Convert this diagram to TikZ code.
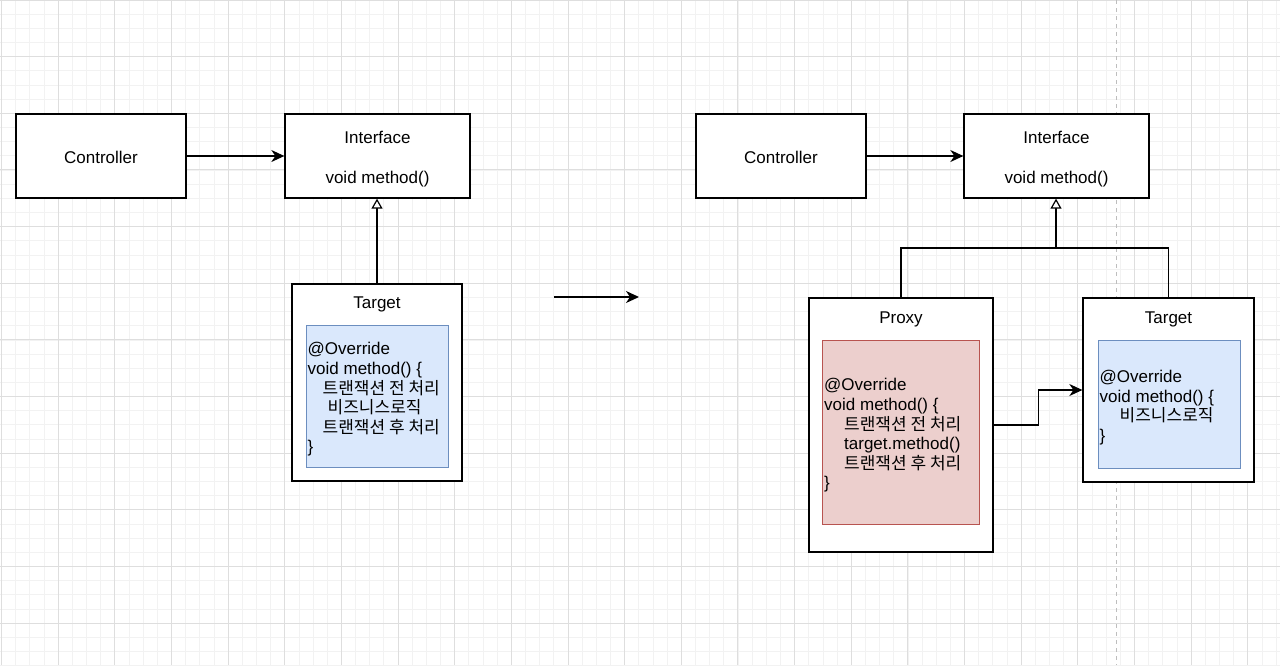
\documentclass[tikz,border=0pt]{standalone}
\usepackage{fontspec}
\setmainfont{Liberation Sans}
\newfontfamily\kr{Noto Sans CJK KR}
\usetikzlibrary{arrows.meta}
\definecolor{minorgrid}{RGB}{242,242,242}
\definecolor{majorgrid}{RGB}{222,222,222}
\definecolor{dashgray}{RGB}{190,190,190}
\definecolor{bluefill}{RGB}{218,232,252}
\definecolor{bluedraw}{RGB}{108,142,191}
\definecolor{redfill}{RGB}{236,207,205}
\definecolor{reddraw}{RGB}{184,84,80}
\tikzset{
  every node/.style={font=\fontsize{17}{19.6}\selectfont, inner sep=0pt},
  box/.style={draw=black, fill=white, line width=1.3pt, align=center},
  lbl/.style={align=center},
  bluebox/.style={draw=bluedraw, fill=bluefill, line width=1pt},
  redbox/.style={draw=reddraw, fill=redfill, line width=1pt},
  codetext/.style={align=left, anchor=west},
  conn/.style={line width=1.3pt, draw=black},
  arr/.style={conn, -{Stealth[length=13pt,width=12pt,inset=4pt]}},
  genarr/.style={conn, -{Triangle[length=10pt,width=11pt,fill=white,line width=1.2pt]}},
}
\newcommand{\ind}[1]{\hspace*{#1pt}}
\begin{document}
\begin{tikzpicture}[x=1pt,y=-1pt]
\useasboundingbox (0,0) rectangle (1280,665);
\fill[white] (0,0) rectangle (1280,665);
% grid
\foreach \i in {0,...,91} {
  \draw[minorgrid, line width=0.8pt] ({1.5+14.1625*\i},0) -- ({1.5+14.1625*\i},665);
}
\foreach \j in {0,...,47} {
  \draw[minorgrid, line width=0.8pt] (0,{14.1625*\j}) -- (1280,{14.1625*\j});
}
\foreach \i in {0,...,22} {
  \draw[majorgrid, line width=1pt] ({1.5+56.65*\i},0) -- ({1.5+56.65*\i},665);
}
\foreach \j in {0,...,11} {
  \draw[majorgrid, line width=1pt] (0,{56.65*\j}) -- (1280,{56.65*\j});
}
\draw[dashgray, line width=1pt, dash pattern=on 4pt off 4pt] (1116.7,0) -- (1116.7,665);

% ---------- left diagram ----------
\node[box, minimum width=170pt, minimum height=84pt] (ctrlL) at (101,156) {};
\node[lbl] (ctrlLtext) at (101,157) {Controller};
\node[box, minimum width=185pt, minimum height=84pt] (ifaceL) at (377.5,156) {};
\node[lbl] (ifaceLa) at (377.5,137) {Interface};
\node[lbl] (ifaceLb) at (377.5,179) {void method()};
\node[box, minimum width=170pt, minimum height=197pt] (targetL) at (377,382.5) {};
\node (targetLtitle) at (377,304.5) {Target};
\node[bluebox, minimum width=142pt, minimum height=142pt] (blueL) at (377,396) {};
\node[codetext] (codeL) at ([xshift=2pt,yshift=-3.5pt]blueL.west) {@Override\\void method() \{\\\ind{15}{\kr 트랜잭션 전 처리}\\\ind{20}{\kr 비즈니스로직}\\\ind{15}{\kr 트랜잭션 후 처리}\\\}};
\draw[arr] (ctrlL.east) -- (ifaceL.west);
\draw[genarr] (targetL.north) -- (ifaceL.south -| targetL.north);

% middle arrow
\coordinate (midA) at (554,297);
\coordinate (midB) at (639,297);
\draw[arr] (midA) -- (midB);

% ---------- right diagram ----------
\node[box, minimum width=170pt, minimum height=84pt] (ctrlR) at (781,156) {};
\node[lbl] (ctrlRtext) at (781,157) {Controller};
\node[box, minimum width=185pt, minimum height=84pt] (ifaceR) at (1056.5,156) {};
\node[lbl] (ifaceRa) at (1056.5,137) {Interface};
\node[lbl] (ifaceRb) at (1056.5,179) {void method()};
\node[box, minimum width=184pt, minimum height=254pt] (proxy) at (901,425) {};
\node (proxytitle) at (901,319.5) {Proxy};
\node[redbox, minimum width=157pt, minimum height=184pt] (redR) at (901,432) {};
\node[codetext] (codeP) at ([xshift=2pt,yshift=-3.5pt]redR.west) {@Override\\void method() \{\\\ind{20}{\kr 트랜잭션 전 처리}\\\ind{20}target.method()\\\ind{20}{\kr 트랜잭션 후 처리}\\\}};
\node[box, minimum width=171pt, minimum height=184pt] (targetR) at (1168.5,390) {};
\node (targetRtitle) at (1168.5,319.5) {Target};
\node[bluebox, minimum width=142pt, minimum height=128pt] (blueR) at (1169,404) {};
\node[codetext] (codeT) at ([xshift=2pt,yshift=-3.5pt]blueR.west) {@Override\\void method() \{\\\ind{20}{\kr 비즈니스로직}\\\}};

\draw[arr] (ctrlR.east) -- (ifaceR.west);
\coordinate (join) at (1056,248);
\draw[conn] (proxy.north) |- (join) -| (targetR.north);
\draw[genarr] (join) -- (join |- ifaceR.south);
\draw[arr] (proxy.east) -- ++(45,0) |- (targetR.west);
\end{tikzpicture}
\end{document}
